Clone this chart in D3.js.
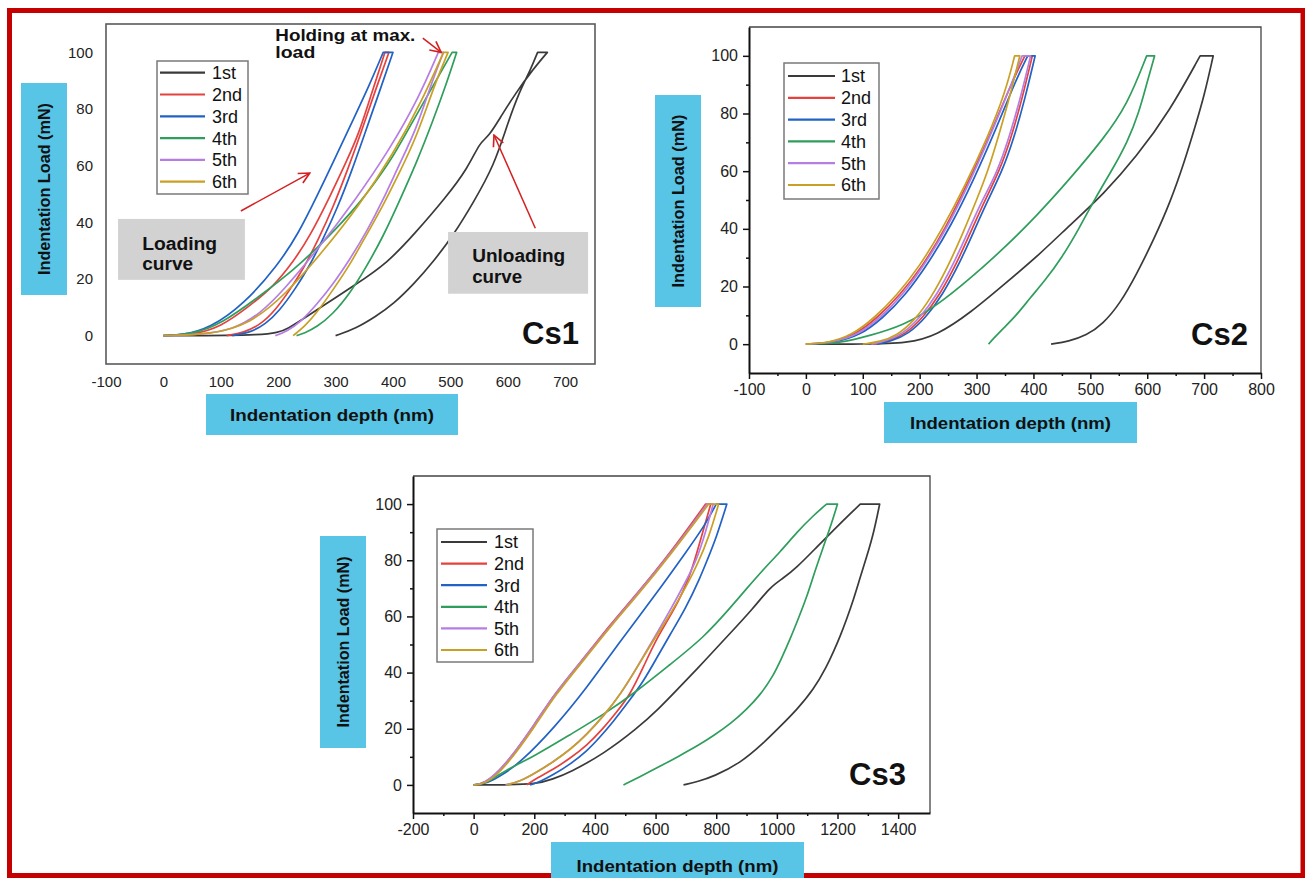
<!DOCTYPE html>
<html>
<head>
<meta charset="utf-8">
<script src="https://cdn.jsdelivr.net/npm/d3@7"></script>
<style>
  html, body { margin: 0; padding: 0; background: #fff; }
  svg { display: block; }
  text { font-family: "Liberation Sans", Arial, sans-serif; }
</style>
</head>
<body>
<div id="chart"></div>
<script>
// ---- data: indentation depth (nm), load (mN); loading -> hold -> unloading ----
const seriesNames = ['1st', '2nd', '3rd', '4th', '5th', '6th'];
const seriesColors = ['#3a3a3a', '#e4423f', '#2162c4', '#2f9e5c', '#b67de2', '#c9a024'];

const cs1_1st = [[0,0],[185,0],[215,2],[266,9],[335,18],[390,25.6],[438,36],[493,49],[530,59],[552,68.5],[566,70],[590,78],[612,85],[640,93],[669,100],[652,100],[640,94],[620,86],[600,75],[576,60],[540,47],[507,36],[470,26],[438,18.6],[400,11],[370,6.8],[335,2.5],[300,0]];
const cs1_2nd = [[0,0],[50,0.3],[100,3],[150,10.5],[190,17],[226,26],[255,35],[290,49],[320,62],[340,71],[362,85],[386,100],[393,100],[370,87],[345,72],[320,58],[295,45],[270,34],[245,24],[220,16],[195,9],[170,4],[140,1],[110,0]];
const cs1_3rd = [[0,0],[35,0.3],[80,2.5],[140,11],[200,25],[235,36],[267,49],[300,63],[330,76],[358,88],[383,100],[400,100],[378,87],[352,72],[328,58],[303,45],[278,34],[253,24],[228,16],[203,9],[178,4],[150,1],[120,0]];
const cs1_4th = [[0,0],[50,0.5],[100,4],[168,14],[226,23],[284,34],[343,47],[372,55],[400,63],[441,78],[475,90],[503,100],[511,100],[495,90],[470,76],[441,61],[410,47],[383,35],[350,23],[325,15],[295,7.5],[267,3],[245,0.8],[232,0]];
const cs1_5th = [[0,0],[60,0.3],[122,2],[170,8],[209,16],[267,30],[335,48],[395,66],[445,84],[479,100],[488,100],[465,88],[441,73],[410,60],[383,48],[355,37],[325,27],[295,18],[267,11],[240,5],[215,1.5],[195,0]];
const cs1_6th = [[0,0],[80,0.3],[151,4],[215,15],[275,29],[340,45.5],[400,64],[450,82.6],[488,100],[496,100],[475,90],[441,70],[410,57],[383,46],[355,36],[325,25],[295,16],[267,8],[245,3],[226,0]];

const cs2_1st = [[0,0],[100,0],[180,0.3],[230,3],[290,11],[350,21],[410,31],[465,41.5],[523,52],[581,65],[640,81],[693,100],[716,100],[700,86],[685,76],[665,63],[640,49],[612,36.5],[582,24.5],[552,14],[522,7],[493,3],[462,1],[431,0]];
const cs2_2nd = [[0,0],[45,0.5],[85,3],[125,9],[165,17],[205,27],[245,40],[285,56],[325,73],[360,90],[385,100],[398,100],[380,85],[360,71],[340,60],[315,50],[290,39],[265,28],[235,17],[205,9],[175,3.5],[145,1],[120,0]];
const cs2_3rd = [[0,0],[50,0.5],[95,3],[135,9],[175,17],[215,28],[255,41],[295,57],[335,75],[370,92],[390,100],[403,100],[385,85],[365,71],[345,60],[320,50],[295,39],[270,28],[240,17],[210,9],[180,3.5],[150,1],[125,0]];
const cs2_4th = [[0,0],[60,0.3],[113,3],[171,6.4],[230,13.3],[288,22.6],[347,33],[406,44.6],[464,57.3],[523,71.2],[565,83],[599,100],[613,100],[600,91],[585,80],[565,70],[540,61],[508,50.5],[480,40],[450,30],[420,22],[394,16],[370,10],[347,5.5],[330,2],[321,0]];
const cs2_5th = [[0,0],[45,0.5],[90,3],[130,9],[170,17],[210,28],[250,41],[290,57],[330,75],[365,92],[380,100],[395,100],[378,86],[358,72],[335,59],[310,50],[285,39],[260,28],[230,17],[200,9],[170,3.5],[140,1],[115,0]];
const cs2_6th = [[0,0],[40,0.5],[80,3],[120,9],[160,17],[200,27],[240,40],[280,55],[320,72],[350,87],[367,100],[376,100],[360,87],[340,73],[320,60],[300,50],[275,38],[250,27],[220,16],[190,8],[160,3],[130,0.8],[100,0]];

const cs3_1st = [[0,0],[100,0],[208,0.3],[260,2],[318,4.5],[428,11],[538,20],[610,27],[681,35],[769,45],[846,54],[923,63],[978,70.5],[1020,73.5],[1066,77.5],[1121,83.5],[1198,92],[1275,100],[1339,100],[1320,90],[1297,81.5],[1275,74],[1253,66.1],[1230,59],[1209,53],[1187,47.5],[1165,42.3],[1121,33.9],[1066,26.8],[1011,20.8],[956,14.9],[879,7.7],[791,3],[740,1.2],[692,0]];
const cs3_2nd = [[0,0],[35,0.3],[98,5.9],[208,22.6],[263,32],[373,46.4],[450,57],[538,68],[648,82.5],[765,100],[782,100],[750,88],[714,74],[660,62],[604,52.4],[560,42],[516,32.1],[472,26],[428,20.2],[373,14],[318,9.5],[263,5.5],[208,2.4],[175,0]];
const cs3_3rd = [[0,0],[45,0.5],[100,4],[154,8],[263,20],[373,34.5],[483,51.2],[593,66.7],[703,83.3],[760,92],[800,100],[835,100],[800,88],[770,80],[747,73.8],[700,63],[648,53.6],[600,44.5],[560,36.9],[510,29.5],[461,22.6],[415,16.8],[373,12],[320,7.5],[263,3.6],[220,1.2],[186,0]];
const cs3_4th = [[0,0],[40,0.5],[98,4.8],[208,10.7],[318,17.9],[428,25],[538,33.3],[648,42.9],[758,52.4],[846,63],[901,70],[956,76.8],[1011,83],[1066,90],[1121,96],[1164,100],[1200,100],[1180,93],[1154,85],[1125,76],[1099,67],[1070,59],[1044,52],[1015,45],[989,39],[945,32],[901,27],[850,22],[791,17.5],[740,14],[681,10.5],[604,6],[550,3],[494,0]];
const cs3_5th = [[0,0],[32,0.3],[98,5.9],[208,22.6],[263,32],[373,46.4],[450,56.5],[538,67.9],[648,82.1],[770,100],[790,100],[765,90],[735,80],[700,72.5],[650,62.5],[593,52],[540,42],[483,32],[428,24.5],[373,18],[318,12.5],[263,8.3],[208,4.5],[153,1.2],[105,0]];
const cs3_6th = [[0,0],[38,0.3],[100,5.5],[210,22],[265,31.5],[375,46],[452,56.5],[540,67.5],[650,82],[775,100],[808,100],[775,88],[740,79],[703,71],[650,61],[593,51.5],[540,42],[483,32.1],[428,24.5],[373,17.9],[318,12.5],[263,8.3],[208,4.5],[153,1.2],[109,0]];

const loadTicks = [0, 20, 40, 60, 80, 100];
const loadMinorTicks = [10, 30, 50, 70, 90];
const cs1DepthTicks = [-100, 0, 100, 200, 300, 400, 500, 600, 700];
const cs2DepthTicks = [-100, 0, 100, 200, 300, 400, 500, 600, 700, 800];
const cs2DepthMinor = [-50, 50, 150, 250, 350, 450, 550, 650, 750];
const cs3DepthTicks = [-200, 0, 200, 400, 600, 800, 1000, 1200, 1400];
const cs3DepthMinor = [-100, 100, 300, 500, 700, 900, 1100, 1300];

// Cs1 annotations (depth, load)
const cs1Arrows = [
  { from: [135, 44], to: [255, 57.4] },
  { from: [452, 105], to: [484, 100] },
  { from: [648, 37.9], to: [576, 70.8] }
];

// ---- layout ----
const W = 1305, H = 878;
const svg = d3.select('#chart').append('svg')
  .attr('width', W)
  .attr('height', H);

svg.append('defs').append('marker')
  .attr('id', 'arrowHead')
  .attr('viewBox', '0 0 12 12')
  .attr('refX', 11)
  .attr('refY', 6)
  .attr('markerWidth', 13)
  .attr('markerHeight', 13)
  .attr('markerUnits', 'userSpaceOnUse')
  .attr('orient', 'auto')
  .append('path')
  .attr('d', 'M1,1 L11,6 L1,11')
  .attr('fill', 'none')
  .attr('stroke', '#d42020')
  .attr('stroke-width', 1.5);

// outer red frame
svg.append('rect')
  .attr('x', 9.5).attr('y', 10.5)
  .attr('width', 1293.5).attr('height', 865)
  .attr('fill', 'none')
  .attr('stroke', '#c40000')
  .attr('stroke-width', 5);

const panels = [
  {
    name: 'Cs1', style: 'excel',
    x0: 106, x1: 595, y0: 24, y1: 364, xDomain: [-100, 752],
    xTicks: cs1DepthTicks, xMinor: [],
    series: [cs1_1st, cs1_2nd, cs1_3rd, cs1_4th, cs1_5th, cs1_6th],
    legend: { x: 157, y: 61, w: 91, h: 133, l1: 160, l2: 205, tx: 212, row0: 72.7, step: 21.8 },
    yBox: { x: 21, y: 83, w: 46, h: 212, len: 172 },
    xBox: { x: 206, y: 394, w: 252, h: 41, len: 204, ty: 415 },
    tag: { x: 522, y: 344 }, fontSize: 15
  },
  {
    name: 'Cs2', style: 'origin',
    x0: 749, x1: 1261, y0: 27, y1: 373, xDomain: [-100, 800],
    xTicks: cs2DepthTicks, xMinor: cs2DepthMinor,
    series: [cs2_1st, cs2_2nd, cs2_3rd, cs2_4th, cs2_5th, cs2_6th],
    legend: { x: 784, y: 63, w: 95, h: 136, l1: 788, l2: 835, tx: 841, row0: 76, step: 21.8 },
    yBox: { x: 655, y: 95, w: 46, h: 212, len: 173 },
    xBox: { x: 884, y: 402, w: 253, h: 41, len: 201, ty: 423 },
    tag: { x: 1191, y: 345 }, fontSize: 16
  },
  {
    name: 'Cs3', style: 'origin',
    x0: 413, x1: 930, y0: 476, y1: 813, xDomain: [-200, 1505],
    xTicks: cs3DepthTicks, xMinor: cs3DepthMinor,
    series: [cs3_1st, cs3_2nd, cs3_3rd, cs3_4th, cs3_5th, cs3_6th],
    legend: { x: 437, y: 529, w: 96, h: 133, l1: 441, l2: 487, tx: 494, row0: 542, step: 21.6 },
    yBox: { x: 320, y: 536, w: 46, h: 212, len: 171 },
    xBox: { x: 551, y: 842, w: 253, h: 40, len: 202, ty: 866 },
    tag: { x: 849, y: 785 }, fontSize: 16
  }
];

// loading and unloading branches are smoothed separately, the hold at max load stays straight
const smooth = d3.line().curve(d3.curveBasis);
function cyclePath(s, x, y) {
  const peak = s.findIndex(d => d[1] === 100);
  const loading = s.slice(0, peak + 1).map(d => [x(d[0]), y(d[1])]);
  const unloading = s.slice(peak + 1).map(d => [x(d[0]), y(d[1])]);
  return smooth(loading) + 'L' + smooth(unloading).slice(1);
}

panels.forEach(p => {
  const x = d3.scaleLinear().domain(p.xDomain).range([p.x0, p.x1]);
  const y = d3.scaleLinear().domain([-10, 110]).range([p.y1, p.y0]);
  const g = svg.append('g').attr('class', 'panel-' + p.name);

  // frame + axes
  if (p.style === 'excel') {
    g.append('rect')
      .attr('x', p.x0).attr('y', p.y0)
      .attr('width', p.x1 - p.x0).attr('height', p.y1 - p.y0)
      .attr('fill', 'none').attr('stroke', '#5a5a5a').attr('stroke-width', 1.6);
    g.append('g')
      .attr('transform', `translate(${p.x0},0)`)
      .call(d3.axisLeft(y).tickValues(loadTicks).tickSize(0).tickPadding(13).tickFormat(d => String(d)))
      .call(a => a.select('.domain').remove());
    g.append('g')
      .attr('transform', `translate(0,${p.y1})`)
      .call(d3.axisBottom(x).tickValues(p.xTicks).tickSize(0).tickPadding(12).tickFormat(d => String(d)))
      .call(a => a.select('.domain').remove());
  } else {
    g.append('path')
      .attr('d', `M${p.x0},${p.y0}H${p.x1}V${p.y1}`)
      .attr('fill', 'none').attr('stroke', '#444').attr('stroke-width', 1.3);
    g.append('g')
      .attr('transform', `translate(${p.x0},0)`)
      .call(d3.axisLeft(y).tickValues(loadMinorTicks).tickSize(3).tickFormat(''))
      .call(a => a.select('.domain').remove());
    g.append('g')
      .attr('transform', `translate(0,${p.y1})`)
      .call(d3.axisBottom(x).tickValues(p.xMinor).tickSize(3).tickFormat(''))
      .call(a => a.select('.domain').remove());
    g.append('g')
      .attr('transform', `translate(${p.x0},0)`)
      .call(d3.axisLeft(y).tickValues(loadTicks).tickSize(6).tickSizeOuter(0).tickPadding(5).tickFormat(d => String(d)));
    g.append('g')
      .attr('transform', `translate(0,${p.y1})`)
      .call(d3.axisBottom(x).tickValues(p.xTicks).tickSize(6).tickSizeOuter(0).tickPadding(5).tickFormat(d => String(d)));
  }
  g.selectAll('.domain').attr('stroke', '#111').attr('stroke-width', 2);
  g.selectAll('.tick line').attr('stroke', '#111').attr('stroke-width', 1.5);
  g.selectAll('.tick text')
    .attr('font-size', p.fontSize)
    .attr('font-family', '"Liberation Sans", Arial, sans-serif')
    .attr('fill', '#222');

  // curves
  g.append('g').selectAll('path.curve')
    .data(p.series)
    .join('path')
    .attr('class', 'curve')
    .attr('d', s => cyclePath(s, x, y))
    .attr('fill', 'none')
    .attr('stroke', (s, i) => seriesColors[i])
    .attr('stroke-width', 1.7)
    .attr('stroke-linejoin', 'round');

  // legend
  const L = p.legend;
  const lg = g.append('g');
  lg.append('rect')
    .attr('x', L.x).attr('y', L.y).attr('width', L.w).attr('height', L.h)
    .attr('fill', '#fff').attr('stroke', '#7a7a7a').attr('stroke-width', 1.5);
  const rows = lg.selectAll('g.row').data(seriesNames).join('g').attr('class', 'row');
  rows.append('line')
    .attr('x1', L.l1).attr('x2', L.l2)
    .attr('y1', (d, i) => L.row0 + i * L.step)
    .attr('y2', (d, i) => L.row0 + i * L.step)
    .attr('stroke', (d, i) => seriesColors[i])
    .attr('stroke-width', 2.2);
  rows.append('text')
    .attr('x', L.tx)
    .attr('y', (d, i) => L.row0 + i * L.step)
    .attr('dy', '0.36em')
    .attr('font-size', 18)
    .attr('fill', '#111')
    .text(d => d);

  // axis title boxes
  const yb = p.yBox;
  g.append('rect')
    .attr('x', yb.x).attr('y', yb.y).attr('width', yb.w).attr('height', yb.h)
    .attr('fill', '#58c4e6');
  g.append('text')
    .attr('transform', `translate(${yb.x + yb.w / 2},${yb.y + yb.h / 2}) rotate(-90)`)
    .attr('text-anchor', 'middle')
    .attr('dy', '0.35em')
    .attr('font-size', 17)
    .attr('font-weight', 'bold')
    .attr('fill', '#111')
    .attr('textLength', yb.len)
    .attr('lengthAdjust', 'spacingAndGlyphs')
    .text('Indentation Load (mN)');

  const xb = p.xBox;
  g.append('rect')
    .attr('x', xb.x).attr('y', xb.y).attr('width', xb.w).attr('height', xb.h)
    .attr('fill', '#58c4e6');
  g.append('text')
    .attr('x', xb.x + xb.w / 2)
    .attr('y', xb.ty)
    .attr('text-anchor', 'middle')
    .attr('dy', '0.35em')
    .attr('font-size', 17)
    .attr('font-weight', 'bold')
    .attr('fill', '#111')
    .attr('textLength', xb.len)
    .attr('lengthAdjust', 'spacingAndGlyphs')
    .text('Indentation depth (nm)');

  // sample tag
  g.append('text')
    .attr('x', p.tag.x).attr('y', p.tag.y)
    .attr('font-family', 'Lato, "Open Sans", sans-serif')
    .attr('font-size', 31)
    .attr('font-weight', 'bold')
    .attr('fill', '#111')
    .text(p.name);

  if (p.name === 'Cs1') drawCs1Notes(g, x, y);
});

function drawCs1Notes(g, x, y) {
  // gray note boxes (depth/load corners)
  const notes = [
    { box: [-79, 41.2, 142, 19.7], lines: ['Loading', 'curve'], at: -37, rows: [30.3, 23.2], lens: [75, 51] },
    { box: [496, 36.6, 740, 14.8], lines: ['Unloading', 'curve'], at: 538, rows: [26, 18.6], lens: [93, 50] }
  ];
  notes.forEach(n => {
    g.append('rect')
      .attr('x', x(n.box[0])).attr('y', y(n.box[1]))
      .attr('width', x(n.box[2]) - x(n.box[0]))
      .attr('height', y(n.box[3]) - y(n.box[1]))
      .attr('fill', '#d2d2d2');
    n.lines.forEach((t, i) => {
      g.append('text')
        .attr('x', x(n.at)).attr('y', y(n.rows[i]))
        .attr('font-size', 18).attr('font-weight', 'bold').attr('fill', '#111')
        .attr('textLength', n.lens[i]).attr('lengthAdjust', 'spacingAndGlyphs')
        .text(t);
    });
  });

  g.append('text')
    .attr('x', x(195)).attr('y', y(104))
    .attr('font-size', 16).attr('font-weight', 'bold').attr('fill', '#111')
    .attr('textLength', 140).attr('lengthAdjust', 'spacingAndGlyphs')
    .text('Holding at max.');
  g.append('text')
    .attr('x', x(195)).attr('y', y(98))
    .attr('font-size', 16).attr('font-weight', 'bold').attr('fill', '#111')
    .attr('textLength', 40).attr('lengthAdjust', 'spacingAndGlyphs')
    .text('load');

  g.selectAll('line.note-arrow')
    .data(cs1Arrows)
    .join('line')
    .attr('class', 'note-arrow')
    .attr('x1', d => x(d.from[0])).attr('y1', d => y(d.from[1]))
    .attr('x2', d => x(d.to[0])).attr('y2', d => y(d.to[1]))
    .attr('stroke', '#d42020')
    .attr('stroke-width', 1.5)
    .attr('marker-end', 'url(#arrowHead)');
}
</script>
</body>
</html>
